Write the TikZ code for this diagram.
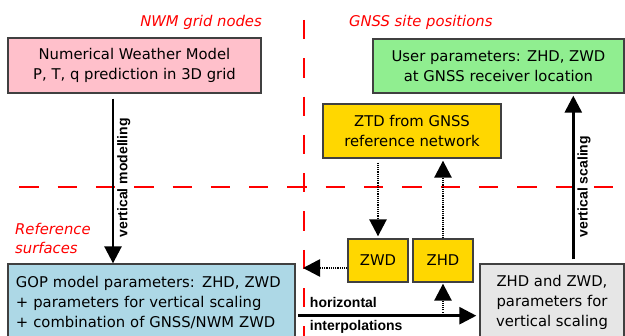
\documentclass[tikz,border=0pt]{standalone}
\usepackage{fontspec}
\setmainfont{DejaVu Sans}
\newfontfamily\arialfont{Liberation Sans}
\usepackage{xcolor}
\usetikzlibrary{arrows.meta, positioning}

\definecolor{nwmpink}{RGB}{255,192,203}
\definecolor{usergreen}{RGB}{144,238,144}
\definecolor{ztdgold}{RGB}{255,215,0}
\definecolor{gopblue}{RGB}{173,216,230}
\definecolor{scalegray}{RGB}{230,230,230}
\definecolor{edgegray}{RGB}{64,64,64}

\begin{document}
\begin{tikzpicture}[x=1pt, y=-1pt,
    box/.style={draw=edgegray, line width=1.3pt, inner sep=0pt, align=center,
        font=\fontsize{14.8}{19.8}\selectfont},
    zone/.style={red, line width=1.3pt, dash pattern=on 19.3pt off 19pt},
    zonelabel/.style={text=red, inner sep=0pt, font=\fontsize{14.8}{19}\selectfont\itshape},
    bigarrow/.style={line width=2.6pt, -{Triangle[width=17pt,length=17pt]}},
    dotarrow/.style={bigarrow, dash pattern=on 1.1pt off 1.1pt},
    steplabel/.style={inner sep=3pt, font=\arialfont\bfseries\fontsize{14}{16}\selectfont}]
    \clip (0,0) rectangle (625,336);

    % borders between the grid / site zones
    \draw[zone] (304,20) -- (304,336);
    \draw[zone] (19.3,187) -- (625,187);

    \node[zonelabel, anchor=base east] (nwmzone) at (262,26.7) {NWM grid nodes};
    \node[zonelabel, anchor=base west] (gnsszone) at (349,26.7) {GNSS site positions};
    \node[zonelabel, anchor=west, align=left] (refzone) at (15,238) {Reference\\surfaces};

    \node[box, fill=nwmpink, minimum width=253pt, minimum height=55pt] (nwm) at (134.5,65.5)
        {Numerical Weather Model\\P, T, q prediction in 3D grid};
    \node[box, fill=usergreen, minimum width=251pt, minimum height=54pt] (user) at (498.5,66)
        {User parameters: ZHD, ZWD\\at GNSS receiver location};
    \node[box, fill=ztdgold, minimum width=178pt, minimum height=54pt] (ztd) at (412,131)
        {ZTD from GNSS\\reference network};
    \node[box, fill=ztdgold, minimum width=60pt, minimum height=43pt] (zwd) at (378,260.5) {ZWD};
    \node[box, fill=ztdgold, minimum width=60pt, minimum height=43pt] (zhd) at (443,260.5) {ZHD};
    \node[box, fill=gopblue, minimum width=287pt, minimum height=77pt, align=left, text width=271pt]
        (gop) at (151.5,302.5)
        {GOP model parameters: ZHD, ZWD\\+ parameters for vertical scaling\\+ combination of GNSS/NWM ZWD};
    \node[box, fill=scalegray, minimum width=144pt, minimum height=77pt] (scale) at (552,302.5)
        {ZHD and ZWD,\\parameters for\\vertical scaling};

    \draw[bigarrow] ([xshift=-21.5pt,yshift=-5pt]nwm.south) -- ([xshift=-38.5pt]gop.north)
        node[steplabel, pos=0.48, rotate=90, anchor=north] {vertical modelling};
    \draw[bigarrow] ([xshift=21.3pt,yshift=4pt]scale.north) -- ([xshift=74.8pt,yshift=-2pt]user.south)
        node[steplabel, pos=0.445, rotate=90, anchor=north] {vertical scaling};

    \coordinate (hstart) at ([xshift=2.5pt,yshift=-13.2pt]gop.east);
    \coordinate (hend) at ([xshift=-3pt,yshift=-13.2pt]scale.west);
    \draw[bigarrow] (hstart) -- (hend)
        node[steplabel, pos=0, anchor=south west, xshift=7.5pt, yshift=4pt] {horizontal}
        node[steplabel, pos=0, anchor=north west, xshift=7.5pt] {interpolations};

    \coordinate (gridcut) at (303,268);
    \draw[dotarrow] ([yshift=-7.5pt]zwd.west) -- (gridcut);
    \draw[dotarrow, shorten <=4pt, shorten >=2pt] (ztd.south -| zwd.north) -- (zwd.north);
    \draw[dotarrow, shorten >=2pt] (zhd.north) -- (zhd.north |- ztd.south);
    \draw[dotarrow, shorten <=3pt, shorten >=1pt] (zhd.south |- hstart) -- (zhd.south);
\end{tikzpicture}
\end{document}
